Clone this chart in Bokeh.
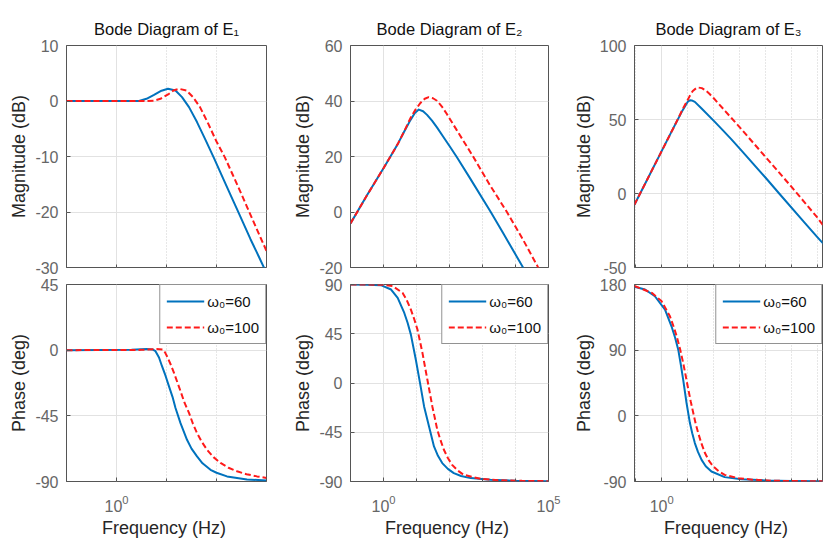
import numpy as np
from bokeh.plotting import figure
from bokeh.layouts import gridplot
from bokeh.models import Range1d, FixedTicker, LogTickFormatter
from bokeh.embed import file_html
from bokeh.resources import INLINE

# ---------------- data ----------------
titles = ["Bode Diagram of E\u2081", "Bode Diagram of E\u2082", "Bode Diagram of E\u2083"]
series_labels = ["\u03c9\u2080=60", "\u03c9\u2080=100"]

# E1 magnitude (log10 Hz, dB)
e1_mag_w60_logf = [-1, 0, 0.45, 0.6, 0.75, 0.9, 1.03, 1.18, 1.31, 1.45, 1.61, 1.78, 1.95, 2.1, 2.28, 2.43, 2.68, 2.85, 3.0]
e1_mag_w60 = [0, 0, 0, 0.4, 1.1, 1.85, 2.2, 1.9, 0.7, -1.1, -3.8, -7.0, -10.3, -13.3, -16.9, -19.9, -24.9, -28.1, -31.0]
e1_mag_w100_logf = [-1, 0.6, 0.75, 0.88, 1.05, 1.15, 1.25, 1.4, 1.53, 1.67, 1.83, 2.0, 2.17, 2.32, 2.5, 2.65, 2.9, 3.0]
e1_mag_w100 = [0, 0, 0.05, 0.4, 1.3, 1.95, 2.2, 1.9, 0.7, -1.1, -4.0, -7.3, -10.2, -13.2, -16.8, -19.9, -25.0, -27.0]
# E1 phase (log10 Hz, deg)
e1_ph_w60_logf = [-1, 0.3, 0.6, 0.72, 0.78, 0.85, 0.91, 0.98, 1.05, 1.12, 1.18, 1.28, 1.41, 1.5, 1.61, 1.72, 1.88, 2.0, 2.21, 2.61, 3.0]
e1_ph_w60 = [0, 0.3, 0.8, 0.5, -0.7, -5, -11, -17.5, -24.8, -32, -39.6, -50, -61.4, -67.5, -72.8, -77.5, -82, -84, -86.5, -88.6, -89.3]
e1_ph_w100_logf = [-1, 0.5, 0.8, 0.92, 0.97, 1.01, 1.08, 1.15, 1.28, 1.36, 1.45, 1.53, 1.61, 1.7, 1.81, 1.94, 2.08, 2.24, 2.41, 2.6, 2.81, 3.0]
e1_ph_w100 = [0, 0.2, 0.8, 0.5, -1.5, -4.2, -9.5, -15.6, -28, -36, -43, -50.5, -56.8, -62.5, -68.2, -73.3, -77.3, -80.6, -83, -85, -86.5, -87.6]

# E2 magnitude
e2_mag_w60_logf = [-1, -0.5, 0, 0.3, 0.45, 0.62, 0.82, 0.95, 1.07, 1.2, 1.32, 1.47, 1.62, 1.8, 2.0, 2.22, 2.62, 3.25, 3.62, 4.22, 4.3]
e2_mag_w60 = [-4.1, 6.0, 15.8, 21.8, 24.9, 28.8, 33.2, 35.7, 36.9, 36.3, 35.0, 32.9, 30.5, 27.3, 23.8, 19.8, 12.2, 0, -7.5, -19.8, -21.4]
e2_mag_w100_logf = [-1, -0.5, 0, 0.3, 0.45, 0.62, 0.82, 0.97, 1.12, 1.25, 1.37, 1.5, 1.62, 1.77, 1.92, 2.22, 2.72, 3.22, 3.74, 4.22, 4.67, 4.75]
e2_mag_w100 = [-4.1, 6.0, 15.8, 21.8, 24.9, 28.9, 33.9, 36.9, 39.3, 40.8, 41.4, 41.0, 40.1, 38.0, 35.3, 29.5, 19.9, 9.8, 0, -9.8, -19.6, -21.3]
# E2 phase
e2_ph_w60_logf = [-1, -0.5, -0.08, 0.23, 0.43, 0.63, 0.73, 0.83, 0.98, 1.11, 1.23, 1.38, 1.53, 1.65, 1.78, 1.95, 2.13, 2.35, 2.64, 3.24, 4, 5]
e2_ph_w60 = [90, 89.8, 89.4, 85.4, 77.8, 64, 55, 44.2, 21.3, -0.6, -21.4, -39.7, -58, -66.5, -73.2, -78.5, -82.4, -85, -86.9, -88.4, -89.3, -89.7]
e2_ph_w100_logf = [-1, 0, 0.28, 0.58, 0.7, 0.83, 0.93, 1.03, 1.18, 1.33, 1.48, 1.63, 1.73, 1.83, 1.95, 2.08, 2.25, 2.43, 2.94, 3.5, 4.2, 5]
e2_ph_w100 = [90, 89.8, 88.6, 82.3, 76, 67, 58.5, 48.8, 27.5, 3, -21.4, -42.7, -52.5, -61, -68.5, -74.8, -80, -83.9, -87.6, -88.8, -89.4, -89.7]

# E3 magnitude
e3_mag_w60_logf = [-1.05, -0.51, 0, 0.51, 0.77, 0.96, 1.02, 1.09, 1.16, 1.28, 1.54, 2.05, 2.4, 2.69, 3.08, 4.0, 4.53, 5.5, 6.0, 6.35]
e3_mag_w60 = [-7.6, 11.0, 28.6, 46.2, 55.0, 60.6, 62.3, 63, 62.9, 61.9, 57.4, 48.4, 42.0, 36.6, 29.0, 10.8, 0, -19.5, -29.5, -36.2]
e3_mag_w100_logf = [-1.05, -0.51, 0, 0.51, 0.64, 0.85, 0.96, 1.08, 1.2, 1.35, 1.41, 1.55, 1.7, 1.85, 2.0, 2.18, 2.45, 2.69, 3.08, 4.0, 5.0, 5.5, 6.0, 6.35]
e3_mag_w100 = [-7.6, 11.0, 28.6, 46.2, 50.8, 58.3, 61.8, 65.8, 69.3, 71.4, 71.6, 71.2, 69.6, 67.2, 64.5, 61.0, 55.7, 51.0, 43.3, 24.8, 4.6, -5.8, -16.2, -24.5]
# E3 phase
e3_ph_w60_logf = [-1.05, -0.64, -0.26, 0.13, 0.38, 0.52, 0.64, 0.74, 0.83, 0.96, 1.09, 1.18, 1.28, 1.4, 1.54, 1.7, 1.92, 2.43, 3.08, 4, 5, 6.35]
e3_ph_w60 = [177, 173.1, 163.9, 145.6, 122.7, 107, 90.7, 70, 49.5, 17.6, -9.9, -24, -37.3, -49.5, -60.3, -69, -76.3, -84, -86.8, -88.5, -89.3, -89.6]
e3_ph_w100_logf = [-1.05, -0.38, 0, 0.32, 0.45, 0.58, 0.71, 0.83, 0.93, 1.03, 1.12, 1.22, 1.31, 1.41, 1.53, 1.67, 1.82, 1.99, 2.2, 2.43, 2.95, 3.5, 4.2, 5, 6.35]
e3_ph_w100 = [178, 168.6, 157, 136.4, 123.5, 109, 91.5, 72.5, 54.5, 35.8, 20, 3.8, -10.5, -23.6, -37.5, -51, -61.5, -69.4, -76, -80.9, -85.4, -87.5, -88.8, -89.4, -89.7]

# axes
mag_yranges = [(-30, 10), (-20, 60), (-50, 100)]
mag_yticks = [[-30, -20, -10, 0, 10], [-20, 0, 20, 40, 60], [-50, 0, 50, 100]]
ph_yranges = [(-90, 45), (-90, 90), (-90, 180)]
ph_yticks = [[-90, -45, 0, 45], [-90, -45, 0, 45, 90], [-90, 0, 90, 180]]
x_decade_ranges = [(-1, 3), (-1, 5), (-1.046, 6.2)]
x_label_ticks = [[1], [1, 100000], [1]]

mag_data = [
    ((e1_mag_w60_logf, e1_mag_w60), (e1_mag_w100_logf, e1_mag_w100)),
    ((e2_mag_w60_logf, e2_mag_w60), (e2_mag_w100_logf, e2_mag_w100)),
    ((e3_mag_w60_logf, e3_mag_w60), (e3_mag_w100_logf, e3_mag_w100)),
]
ph_data = [
    ((e1_ph_w60_logf, e1_ph_w60), (e1_ph_w100_logf, e1_ph_w100)),
    ((e2_ph_w60_logf, e2_ph_w60), (e2_ph_w100_logf, e2_ph_w100)),
    ((e3_ph_w60_logf, e3_ph_w60), (e3_ph_w100_logf, e3_ph_w100)),
]

# ---------------- styling ----------------
FONT = "Liberation Sans"
BLUE = "#0072BD"
RED = "#FF1A1A"
TICK_COLOR = "#666666"
LABEL_COLOR = "#262626"
FRAME_COLOR = "#555555"

col_widths = [290, 280, 254]
col_left = [66, 59, 63]
col_right = [24, 22, 2]
MAG_H, PH_H = 275, 265


def base_style(p, yticks, xmaj, xmin, show_xlabels):
    p.outline_line_color = FRAME_COLOR
    p.outline_line_width = 1
    p.background_fill_color = "white"
    p.border_fill_color = "white"
    p.yaxis.ticker = FixedTicker(ticks=yticks, minor_ticks=[])
    p.yaxis.major_label_overrides = {t: str(t) for t in yticks}
    grid_ticker = FixedTicker(ticks=xmaj, minor_ticks=xmin)
    if show_xlabels:
        p.xaxis.ticker = grid_ticker
        p.xaxis.formatter = LogTickFormatter()
    else:
        p.xaxis.ticker = FixedTicker(ticks=[], minor_ticks=sorted(xmaj + xmin))
    p.xgrid.ticker = grid_ticker
    for ax in (p.xaxis, p.yaxis):
        ax.axis_line_color = None
        ax.major_tick_in = 4
        ax.major_tick_out = 0
        ax.minor_tick_in = 3
        ax.minor_tick_out = 0
        ax.major_tick_line_color = FRAME_COLOR
        ax.minor_tick_line_color = FRAME_COLOR
        ax.major_label_text_font = FONT
        ax.major_label_text_font_size = "16px"
        ax.major_label_text_color = TICK_COLOR
        ax.axis_label_text_font = FONT
        ax.axis_label_text_font_size = "18px"
        ax.axis_label_text_font_style = "normal"
        ax.axis_label_text_color = LABEL_COLOR
    p.yaxis.major_label_standoff = 8
    p.yaxis.axis_label_standoff = 3
    p.xgrid.grid_line_color = "#e2e2e2"
    p.xgrid.minor_grid_line_color = "#cfcfcf"
    p.xgrid.minor_grid_line_dash = "1 2"
    p.ygrid.grid_line_color = "#e2e2e2"


def draw(p, data, legend):
    (lf1, v1), (lf2, v2) = data
    kw1 = dict(legend_label=series_labels[0]) if legend else {}
    kw2 = dict(legend_label=series_labels[1]) if legend else {}
    p.line(np.power(10.0, lf1), v1, line_color=BLUE, line_width=2, line_join="round", **kw1)
    p.line(np.power(10.0, lf2), v2, line_color=RED, line_width=2, line_dash="6 3", **kw2)


top_row, bottom_row = [], []
for i in range(3):
    lo, hi = x_decade_ranges[i]
    xr = (10.0 ** lo, 10.0 ** hi)
    decades = [10.0 ** k for k in range(-1, 8)]
    xmaj = [float(t) for t in x_label_ticks[i]]
    xmin = [d for d in decades if d not in xmaj]

    m = figure(width=col_widths[i], height=MAG_H, x_axis_type="log",
               x_range=Range1d(*xr), y_range=Range1d(*mag_yranges[i]),
               output_backend="svg", toolbar_location=None, title=titles[i],
               min_border_left=col_left[i], min_border_right=col_right[i],
               min_border_top=45, min_border_bottom=8)
    base_style(m, mag_yticks[i], xmaj, xmin, False)
    m.yaxis.axis_label = "Magnitude (dB)"
    m.xaxis.major_label_standoff = 0
    m.title.text_font = FONT
    m.title.text_font_size = "16.5px"
    m.title.text_font_style = "normal"
    m.title.text_color = "#111111"
    m.title.align = "center"
    m.title.standoff = 16
    draw(m, mag_data[i], False)
    top_row.append(m)

    ph = figure(width=col_widths[i], height=PH_H, x_axis_type="log",
                x_range=Range1d(*xr), y_range=Range1d(*ph_yranges[i]),
                output_backend="svg", toolbar_location=None,
                min_border_left=col_left[i], min_border_right=col_right[i],
                min_border_top=9, min_border_bottom=59)
    base_style(ph, ph_yticks[i], xmaj, xmin, True)
    ph.yaxis.axis_label = "Phase (deg)"
    ph.xaxis.axis_label = "Frequency  (Hz)"
    ph.xaxis.major_label_standoff = 13
    ph.xaxis.axis_label_standoff = 3
    draw(ph, ph_data[i], True)
    lg = ph.legend[0]
    lg.location = "top_right"
    lg.margin = 0
    lg.padding = 6
    lg.spacing = 6
    lg.glyph_width = 38
    lg.glyph_height = 20
    lg.label_height = 20
    lg.label_standoff = 3
    lg.label_text_font = FONT
    lg.label_text_font_size = "15px"
    lg.label_text_color = "#111111"
    lg.border_line_color = "#262626"
    lg.border_line_width = 1
    lg.background_fill_color = "white"
    lg.background_fill_alpha = 1.0
    bottom_row.append(ph)

grid = gridplot([top_row, bottom_row], toolbar_location=None)

open("out.html", "w").write(file_html(grid, INLINE))
